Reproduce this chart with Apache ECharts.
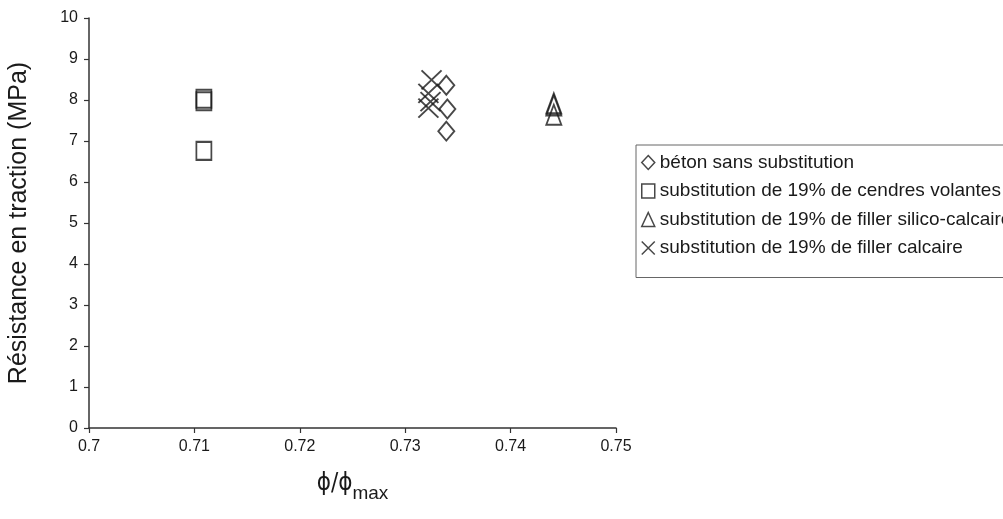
<!DOCTYPE html>
<html>
<head>
<meta charset="utf-8">
<script src="https://cdn.jsdelivr.net/npm/echarts@6/dist/echarts.min.js"></script>
<style>html,body{margin:0;padding:0;background:#fff}#c{width:1003px;height:519px}</style>
</head>
<body>
<div id="c"></div>
<script>
const seriesNames = [
  'béton sans substitution',
  'substitution de 19% de cendres volantes',
  'substitution de 19% de filler silico-calcaire',
  'substitution de 19% de filler calcaire'
];
const betonX = [0.7339, 0.7340, 0.7339];
const betonY = [8.36, 7.78, 7.24];
const cendresX = [0.7109, 0.7109, 0.7109];
const cendresY = [8.03, 7.97, 6.76];
const silicoX = [0.7441, 0.7441, 0.7441];
const silicoY = [7.92, 7.87, 7.64];
const calcaireX = [0.7325, 0.7322, 0.7324, 0.7322];
const calcaireY = [8.49, 8.16, 7.96, 7.80];
const xTicks = [0.7, 0.71, 0.72, 0.73, 0.74, 0.75];
const yTicks = [0, 1, 2, 3, 4, 5, 6, 7, 8, 9, 10];

function pairs(xs, ys) { return xs.map((x, i) => [x, ys[i]]); }

const COND = '"DejaVu Sans Condensed", sans-serif';
const FONT = 'Arial, "Liberation Sans", sans-serif';
const ink = '#1a1a1a';
const base = {
  type: 'scatter',
  itemStyle: { color: 'rgba(255,255,255,0)', borderColor: ink, borderWidth: 1.9 },
  emphasis: { disabled: true }
};

const chart = echarts.init(document.getElementById('c'), null, { renderer: 'canvas' });
chart.setOption({
  animation: false,
  backgroundColor: '#fff',
  textStyle: { fontFamily: FONT },
  grid: { left: 89, right: 387, top: 18, bottom: 91, outerBoundsMode: 'none', containLabel: false },
  xAxis: {
    type: 'value', min: xTicks[0], max: xTicks[xTicks.length - 1], interval: 0.01,
    axisLine: { onZero: false, lineStyle: { color: '#333', width: 1.5 } },
    axisTick: { show: true, length: 5, lineStyle: { color: '#333', width: 1.2 } },
    splitLine: { show: false },
    axisLabel: { color: ink, fontSize: 16, margin: 11, fontFamily: FONT,
      formatter: v => { const t = xTicks.find(k => Math.abs(k - v) < 1e-9); return t === undefined ? '' : String(t); } },
    name: '{a|ϕ/ϕ}{b|max}', nameLocation: 'middle', nameGap: 44,
    nameTextStyle: { rich: {
      a: { fontSize: 24, color: ink, fontFamily: COND, verticalAlign: 'bottom' },
      b: { fontSize: 19, color: ink, fontFamily: FONT, verticalAlign: 'bottom', padding: [0, 0, -7, 0] }
    } }
  },
  yAxis: {
    type: 'value', min: yTicks[0], max: yTicks[yTicks.length - 1], interval: 1,
    axisLine: { show: true, onZero: false, lineStyle: { color: '#333', width: 1.5 } },
    axisTick: { show: true, length: 5, lineStyle: { color: '#333', width: 1.2 } },
    splitLine: { show: false },
    axisLabel: { color: ink, fontSize: 16, margin: 11, fontFamily: FONT },
    name: 'Résistance en traction (MPa)', nameLocation: 'middle', nameGap: 57, nameRotate: 90,
    nameTextStyle: { fontSize: 25, color: ink, fontFamily: FONT }
  },
  legend: {
    orient: 'vertical', left: 636, top: 145,
    padding: [8, 40, 20, 5],
    itemGap: 9.5, itemWidth: 13, itemHeight: 14,
    borderColor: '#666', borderWidth: 1, backgroundColor: '#fff',
    textStyle: { fontSize: 19, color: ink, fontFamily: FONT, padding: [0, 0, 0, 0] },
    itemStyle: { borderWidth: 1.5 },
    data: seriesNames
  },
  series: [
    Object.assign({}, base, { name: seriesNames[0], symbol: 'diamond', symbolSize: [16, 19], data: pairs(betonX, betonY) }),
    Object.assign({}, base, { name: seriesNames[1], symbol: 'rect', symbolSize: [15, 18], data: pairs(cendresX, cendresY) }),
    Object.assign({}, base, { name: seriesNames[2], symbol: 'triangle', symbolSize: [15, 20], data: pairs(silicoX, silicoY) }),
    Object.assign({}, base, { name: seriesNames[3], symbol: 'path://M0,0L20,20M20,0L0,20', symbolSize: [20, 19], data: pairs(calcaireX, calcaireY) })
  ]
});
</script>
</body>
</html>
